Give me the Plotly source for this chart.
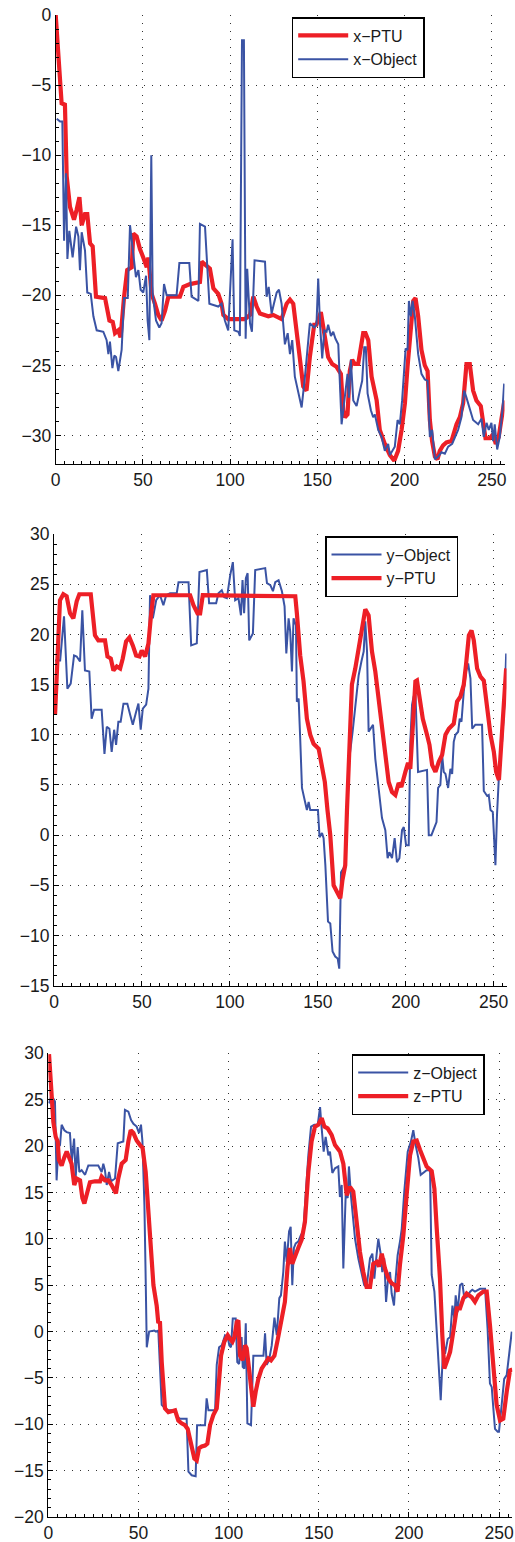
import plotly.graph_objects as go

# ---------------- data ----------------
# Panel 1: x coordinate
x_ptu = [(0,0),(3.4,-6.3),(5.3,-6.4),(6.3,-11.5),(8.2,-13.7),(10.5,-14.6),(12,-13.9),(13.6,-13.0),(14.9,-15.0),(16.8,-14.2),(18.1,-14.2),(19.7,-16.3),(21.2,-16.5),(23.1,-20.1),(28.3,-20.2),(30.8,-21.8),(32.7,-21.9),(34,-22.7),(35.9,-22.5),(37.2,-23.0),(39.2,-20.1),(41,-18.2),(43.6,-18.0),(44.5,-15.6),(46.4,-15.8),(48.3,-16.7),(50.2,-17.3),(52.2,-18.0),(53.1,-17.3),(55,-19.9),(56.9,-20.6),(58.8,-21.4),(60.7,-21.8),(62.7,-21.1),(64.6,-20.1),(71.2,-20.1),(73.2,-19.4),(77,-19.2),(82.7,-19.05),(83.7,-17.6),(86.5,-17.9),(88.4,-18.1),(90.4,-19.5),(93.2,-19.9),(95.1,-20.6),(96.1,-21.4),(98.9,-21.7),(108.5,-21.7),(111.4,-21.4),(113.3,-20.1),(115.2,-20.8),(117.1,-21.3),(121.9,-21.5),(124.7,-21.4),(129.5,-21.7),(132.4,-20.6),(134.3,-20.3),(136.2,-20.6),(139,-23.5),(141.9,-26.5),(143.8,-26.8),(145.7,-24.4),(148.2,-22.1),(149.5,-22.1),(152,-21.2),(154.3,-22.9),(156.2,-24.4),(158.5,-24.9),(161,-25.1),(163.5,-25.6),(164.8,-28.2),(165.8,-28.7),(167.3,-28.5),(168.6,-25.4),(170,-24.6),(171.5,-24.9),(173.4,-24.9),(176.3,-22.7),(177.6,-22.7),(179.2,-23.2),(181.1,-25.8),(184,-27.5),(185.8,-29.6),(188.7,-30.6),(191.6,-31.4),(194.1,-31.8),(196.3,-31.1),(198.3,-29.6),(200.2,-27.7),(201.7,-25.1),(203.6,-22.0),(205,-20.4),(206.3,-20.2),(207.8,-21.5),(209.7,-23.9),(211.6,-25.0),(213.2,-25.4),(214.5,-28.9),(215.8,-30.4),(217.4,-31.5),(218.9,-31.7),(220.2,-31.1),(222.1,-30.7),(224,-30.5),(226.9,-30.4),(229.8,-29.2),(231.7,-28.7),(233.6,-27.7),(235.5,-24.9),(237.4,-24.9),(239.3,-26.8),(241.2,-27.5),(243.7,-27.9),(245,-29.2),(246.4,-30.2),(248.9,-30.2),(250.8,-29.9),(252.3,-30.6),(254,-30.1),(255.6,-28.8),(257.3,-27.5)]

x_obj = [(0.6,-7.4),(2.5,-7.6),(3.8,-7.6),(4.8,-16.1),(5.9,-11.3),(6.7,-17.4),(7.8,-15.4),(9.7,-17.3),(11.7,-15.1),(13,-15.8),(13.9,-18.2),(14.9,-15.5),(16.8,-16.8),(18.1,-19.8),(20.1,-19.9),(21.6,-21.5),(23.5,-22.5),(27.3,-22.6),(29.2,-23.2),(30.2,-24.2),(31.1,-23.3),(32.5,-25.2),(33.6,-24.3),(34.6,-24.4),(35.9,-25.4),(37.8,-23.9),(39.2,-20.2),(41.3,-20.2),(42.6,-15.0),(44.5,-17.0),(46,-18.7),(47.4,-18.2),(48.7,-19.6),(50.2,-19.8),(51.8,-18.6),(52.7,-21.8),(53.7,-23.2),(54.8,-10.0),(55.6,-19.9),(57.5,-21.8),(59.4,-22.3),(60.7,-22.0),(62.1,-19.2),(63.6,-20),(69.3,-20),(70.9,-17.7),(76.6,-17.7),(77.9,-20.1),(81.8,-20.4),(82.7,-14.9),(85.6,-15.1),(88.1,-20.6),(93.2,-20.8),(95.1,-20.6),(97,-21.8),(98.9,-22.5),(99.9,-19.9),(101.4,-16.0),(102.4,-22.5),(104.7,-22.6),(105.6,-22.9),(106.8,-1.8),(107.9,-1.8),(108.9,-23.1),(109.8,-18.1),(111.4,-22.0),(112.5,-22.6),(114,-17.5),(120,-17.6),(120.9,-20.1),(122.1,-19.4),(123.8,-21.3),(125.1,-20.6),(126.7,-19.8),(128,-19.6),(129.5,-20.6),(131.4,-23.5),(133,-22.7),(134.3,-24.2),(135.6,-23.2),(137.1,-25.8),(139,-27),(141,-28),(142.9,-25.8),(144.2,-24.2),(145.7,-22.0),(148.2,-22.3),(149.5,-22.1),(150.5,-18.8),(151.5,-22),(152.8,-24.5),(154,-22.5),(155.3,-22.6),(156.2,-22.1),(157.8,-22.9),(159.1,-22.6),(160.4,-23.1),(162,-23.5),(163.9,-29.2),(164.8,-28.2),(166.2,-26.9),(167.3,-25.6),(168.1,-27.3),(169.2,-24.6),(170.6,-27.5),(172.5,-27.9),(174.4,-26.8),(175.7,-26.1),(176.9,-23.7),(177.8,-23.7),(178.8,-27),(180.7,-28.2),(182,-28.7),(183,-28.5),(184.9,-29.6),(186.8,-30.1),(188.7,-31.1),(190.6,-30.6),(191.6,-31.4),(192.9,-31.1),(194.4,-30.8),(196,-28.9),(197.3,-29.2),(198.6,-27.5),(200.6,-23.8),(201.7,-23.9),(202.5,-20.4),(203.6,-21.5),(204.6,-20.4),(205.9,-21.5),(207.8,-24.2),(209.7,-25.6),(211.6,-26),(213.2,-26.1),(214.5,-30.1),(215.8,-29.6),(217.4,-31.7),(219.3,-31.5),(221.2,-31.2),(223.1,-31.3),(225,-30.8),(227.3,-30.6),(228.8,-30.1),(230.7,-29.6),(232.6,-28.7),(234.2,-26.8),(235.5,-27.3),(237.4,-28.2),(239.3,-28.9),(242.2,-29.2),(244.1,-28.8),(245.4,-30.1),(247,-29.1),(248.3,-29.6),(249.8,-29.1),(250.8,-30.4),(251.7,-29.2),(253.1,-31),(254.6,-30.1),(256.1,-28.2),(257.1,-26.3)]

# Panel 2: y coordinate
y_obj = [(0.6,17.4),(3.5,17.4),(5.7,21.8),(7.6,14.6),(9.5,15.1),(11.4,17.9),(12.9,17.8),(14.8,17.3),(16.1,22.4),(17.6,16.4),(20.1,16.3),(21.4,11.6),(22.8,12.5),(27.1,12.5),(28.7,8.1),(30,10.8),(31.5,10.6),(32.8,8.3),(34.2,10.5),(35.3,9.0),(36.6,11.3),(37.9,11.3),(39.5,13.1),(41.7,13.1),(43.3,12.0),(44.8,11.0),(46.7,12.3),(48,13.1),(49.3,10.5),(50.5,12.6),(52.4,13.0),(53.7,14.6),(54.6,23.9),(56.2,21.6),(58.1,23.4),(60.3,23.9),(62.2,22.9),(63.8,23.9),(66,24.1),(69.8,24.1),(70.8,25.2),(76.5,25.2),(78,18.9),(81.2,19.1),(82.7,26.2),(86.9,26.4),(88.2,23.1),(92.2,23.1),(93.5,24.1),(95.4,24.4),(96.8,23.7),(98.3,23.6),(100.2,25.9),(101.7,27.2),(103,23.4),(104.9,23.6),(106.3,21.9),(107.2,25.4),(108.1,22.1),(109.1,25.6),(110.1,26.1),(111,19.4),(113.1,20.1),(114.4,26.4),(120.1,26.6),(121.1,25.1),(123,24.9),(124.5,24.3),(125.8,25.2),(127.7,25.4),(129.6,24.3),(131.1,22.8),(132.1,18.1),(133.4,21.6),(134.3,20.3),(135.3,16.3),(136.2,21.6),(137.6,20.9),(138.1,13.3),(139.1,13.6),(140,9.6),(141,4.7),(142.9,3.2),(143.8,2.5),(144.8,3.3),(145.7,2.5),(150.1,2.5),(151,-0.2),(152.4,0.2),(153.3,-0.3),(154.3,-3.0),(155.8,-8.6),(157.1,-8.8),(158.4,-11.6),(159.9,-12.1),(161.3,-12.3),(162.2,-13.3),(163.2,-3.7),(165.6,-3.0),(166.6,1.7),(167.9,7.6),(169.8,10.3),(171.3,12.6),(173.2,15.9),(174.8,17.3),(176.1,18.3),(177,21.3),(178,18.3),(178.9,10.3),(179.9,10.6),(181.4,11.0),(182.7,7.6),(184.6,4.7),(186.5,1.7),(188.4,0.5),(189.7,-2.3),(190.7,-1.7),(192.2,-2.3),(193.7,-0.3),(195,-2.7),(196.4,-2.3),(197.9,0.5),(198.9,0.8),(200.2,-1.0),(201.7,-1.0),(202.6,9.3),(203.6,13.0),(204.5,13.8),(205.5,14.3),(207,6.3),(212.1,6.5),(213.1,0.0),(214.6,0.0),(216.5,1.0),(217.5,1.3),(218.4,4.7),(219.7,5.0),(220.7,8.0),(221.6,6.3),(222.6,6.1),(224.1,4.7),(225.4,6.6),(226.4,6.1),(227.3,9.3),(228.3,10.0),(229.8,10.3),(230.7,11.6),(231.7,11.3),(233,14.3),(234.3,16.3),(235.5,17.1),(236.8,15.6),(237.8,10.6),(239.6,11.0),(243.4,11.0),(244.4,4.4),(246.3,3.9),(247.2,4.0),(248.2,2.5),(249.5,2.3),(251,-3.0),(251.9,2.0),(253.3,7.0),(254.8,9.3),(256.3,13.6),(257.1,18.1)]

y_ptu = [(0.6,12.0),(1.9,17.6),(3.4,23.4),(5.3,24.0),(7.2,23.8),(9.1,22.1),(11,21.6),(12.9,23.3),(14.4,24.0),(20.9,24.0),(23.3,19.9),(25.2,19.4),(29,19.4),(30.4,17.8),(32.3,17.6),(33.8,16.4),(35.7,16.8),(37.6,16.6),(39.1,17.6),(41,19.3),(42.9,19.7),(44.8,18.9),(46.7,17.9),(48.6,17.8),(49.9,18.4),(51.8,17.8),(53.7,19.1),(55,21.6),(56.5,23.9),(77.4,23.9),(79.3,22.9),(81.6,22.1),(83.1,22.1),(84.6,23.9),(136.2,23.9),(137.2,23.8),(138.1,22.1),(140,17.9),(141.9,15.3),(143.8,11.6),(145.7,10.0),(147.6,9.1),(150.5,8.6),(152,7.2),(154,5.3),(155.5,2.5),(157.1,0.0),(159,-5.0),(161.5,-6.0),(162.8,-6.3),(164,-4.5),(165.6,-3.0),(166.6,2.5),(167.5,6.5),(169.4,15.0),(171.3,16.6),(173.2,18.6),(175.1,20.9),(177,22.5),(178.9,21.9),(180.8,18.3),(182.7,16.3),(184.6,13.6),(186.5,11.0),(188.4,7.6),(190.3,5.3),(192.2,4.3),(194.1,4.0),(196,5.2),(197.5,4.8),(199.8,6.3),(201.3,7.2),(202.6,6.6),(204,11.6),(205.5,15.3),(206.4,15.4),(207.8,14.0),(209.7,11.6),(212.1,10.0),(213.5,9.0),(215,7.0),(216.9,6.3),(218.8,7.3),(220.7,8.0),(222.6,10.0),(224.5,10.6),(227.3,11.1),(229.2,13.3),(231.1,13.8),(233,15.0),(234.3,17.0),(235.9,19.9),(237.4,20.4),(238.7,19.4),(240.6,16.6),(242.5,15.8),(244.4,15.4),(246.3,12.3),(248.2,10.0),(250.1,8.3),(251.4,6.3),(253,5.5),(254.8,11.0),(257.1,16.6)]

# Panel 3: z coordinate
z_obj = [(0.4,24.6),(1.5,25.3),(2.8,25.1),(3.7,24.8),(4.6,16.3),(5.6,19.9),(6.5,20.1),(7.4,22.3),(8.9,21.7),(10.2,21.5),(12,21.4),(13,18.3),(14.3,20.8),(15.2,16.7),(16.3,19.9),(17.2,17.2),(18.5,17.4),(20.4,16.9),(22.2,17.9),(27.7,17.9),(29.6,17.2),(30.5,18.1),(31.4,17.4),(32.4,15.8),(33.7,17.2),(34.8,16.2),(37,16.5),(38.5,20.3),(41.6,20.5),(42.5,23.9),(44.4,23.7),(45.9,22.8),(47.2,22.4),(49,22.1),(50.3,21.4),(51.4,22.3),(52.2,20.5),(53.3,13.6),(54,5.7),(54.6,-1.7),(55.9,0.0),(58.8,0.1),(59.7,0.0),(61,0.1),(62.9,-7.9),(63.8,-8.1),(65.7,-8.5),(70.3,-8.5),(71.2,-9.2),(73,-9.4),(76.7,-9.4),(77.7,-15.1),(79.5,-15.5),(81.7,-15.6),(82.5,-10.1),(86.9,-10.1),(87.8,-7.2),(88.8,-8.5),(92.5,-8.5),(93.4,-3.6),(94.7,-1.7),(96.2,-1.5),(98,-0.4),(99.5,-0.6),(100.4,-1.5),(101.3,-1.7),(102.3,1.4),(103.9,1.4),(104.8,-3.3),(105.8,-3.5),(107.2,-0.6),(107.8,-3.8),(108.7,-4.0),(109.5,0.9),(110.4,-9.9),(112.4,-10.1),(113.7,-2.6),(119.3,-2.6),(120.2,-0.2),(121.1,-3.6),(122.4,-3.1),(123.9,-1.5),(125.4,1.5),(126.7,-0.4),(128.1,3.6),(129,3.9),(130.3,6.4),(131.2,9.7),(132.2,7.5),(133.5,10.8),(134.4,11.3),(135.3,5.0),(136.2,9.0),(137.2,9.5),(138.6,9.7),(140.1,10.4),(141.4,10.8),(142.7,14.7),(144.2,19.0),(145.7,22.1),(147.5,22.3),(149.4,22.3),(150.7,24.2),(151.6,21.9),(152.7,19.4),(153.8,21.0),(155.3,19.0),(156.2,19.4),(157.5,17.1),(159,17.6),(160.8,17.8),(161.7,14.5),(162.7,15.8),(163.6,6.8),(164.9,14.7),(166,14.4),(166.7,17.8),(167.9,14.5),(170.1,10.0),(171.9,7.9),(173.8,6.1),(175.2,5.0),(176.5,4.8),(178.4,7.9),(179.7,8.4),(180.8,5.7),(182.1,8.4),(183,10.0),(184.3,8.4),(185.2,6.4),(186.3,7.9),(187.3,3.2),(188.6,6.1),(189.5,6.4),(190.4,4.1),(191.7,2.8),(192.6,5.7),(193.7,8.2),(195,9.7),(196,11.1),(197.4,15.1),(199.3,19.4),(201.1,20.5),(202.4,21.7),(203.7,20.1),(205.2,18.7),(206.5,16.9),(208,17.1),(209.8,17.4),(211.7,17.4),(212.6,6.1),(214.1,4.3),(215.4,0.3),(216.3,-3.6),(217.6,-7.4),(219.1,-1.1),(220,-2.4),(221.5,-0.8),(222.8,-0.6),(224.1,2.8),(225.2,1.4),(225.9,3.9),(227,2.1),(228.3,5.0),(229.6,5.2),(230.7,3.6),(232,3.7),(233.9,4.3),(235.1,4.5),(236.6,4.3),(239.4,4.6),(242.2,4.6),(243.6,0.3),(244.9,-5.6),(245.9,-6.0),(246.8,-8.3),(247.7,-10.5),(249.2,-10.8),(249.9,-10.8),(251.4,-7.9),(252.8,-5.1),(254.2,-4.7),(255.5,-2.2),(257,0.0)]

z_ptu = [(0.4,29.9),(1.5,26.6),(2.8,22.6),(4.1,21.0),(5.2,20.5),(5.9,18.5),(7.4,17.9),(8.9,18.8),(10.2,19.4),(11.5,18.8),(12.9,18.1),(14.4,15.8),(15.7,16.5),(17.6,16.3),(18.9,14.4),(20,13.8),(21.3,14.7),(23.1,16.1),(25.9,16.2),(28.7,16.2),(29.6,16.7),(31.4,16.3),(33.3,16.3),(35.1,15.8),(37.5,14.9),(38.8,16.5),(40.7,18.1),(42.9,18.5),(44.4,20.5),(45.7,21.7),(47.2,21.4),(49,20.6),(50.9,20.1),(52.3,19.8),(54,17.2),(55.5,13.3),(56.9,8.6),(58.3,5.0),(60.1,2.8),(61,0.9),(61.9,1.1),(62.9,-3.3),(64.7,-8.3),(66.6,-8.7),(70.3,-8.5),(72.1,-9.6),(73.9,-9.9),(75.8,-10.1),(77.3,-10.5),(79.1,-12.3),(81,-13.7),(82.3,-13.9),(83.6,-12.6),(85.1,-12.4),(86.9,-12.3),(88.2,-12.1),(89.7,-10.1),(91.5,-9.0),(93.4,-8.3),(94.3,-6.2),(95.8,-2.6),(97.6,-1.1),(99.5,-0.4),(100.8,-0.8),(102.1,-1.1),(103.2,-0.6),(104.5,1.0),(105.4,1.2),(106.3,-2.6),(107.8,-3.1),(109.1,-1.5),(110,-1.8),(110.9,-3.3),(112.4,-6.5),(113.7,-8.1),(115,-6.5),(116.5,-5.1),(118.3,-4.0),(120.2,-3.5),(122,-2.9),(123.5,-3.1),(125.4,-2.6),(127.3,-0.8),(129.4,1.4),(131.2,3.2),(132.7,7.0),(134,9.0),(135.3,7.3),(136.8,8.2),(138.6,9.0),(140.5,9.9),(142.3,11.8),(144.2,17.2),(146,20.5),(147.9,22.1),(149.7,22.3),(151.6,23.0),(153.1,22.1),(154.9,21.9),(157.1,21.2),(159,20.1),(161.8,19.4),(163.6,18.1),(165.5,14.7),(167.3,15.6),(169.1,15.1),(171,11.8),(172.8,8.6),(174.7,6.4),(176.5,4.8),(178.4,4.8),(180.2,7.3),(182.1,7.5),(183.4,7.0),(184.9,8.4),(186.7,6.8),(188.6,5.7),(190.4,5.2),(192.3,5.0),(193.7,4.3),(195,7.2),(196.9,10.4),(198.7,14.7),(200.6,19.0),(202.4,20.5),(204.3,20.6),(206.1,19.6),(208,18.7),(209.8,17.8),(212.6,17.3),(214.1,15.4),(215.4,11.1),(217.2,5.7),(218.5,-0.4),(219.6,-4.0),(220.9,-3.3),(222.8,-2.2),(224.6,0.0),(226.5,2.5),(228.3,2.5),(230.2,3.6),(232,4.1),(234.8,3.7),(236.6,3.2),(238.5,3.9),(241.2,4.3),(243.1,4.3),(244.9,0.7),(246.8,-3.6),(248.6,-7.9),(250.5,-9.6),(252.3,-9.4),(254.2,-6.5),(256,-4.2),(257.3,-4.1)]

x_ticks = [0, 50, 100, 150, 200, 250]
y1_ticks = [-30, -25, -20, -15, -10, -5, 0]
y2_ticks = [-15, -10, -5, 0, 5, 10, 15, 20, 25, 30]
y3_ticks = [-20, -15, -10, -5, 0, 5, 10, 15, 20, 25, 30]

# ---------------- styling ----------------
RED = "#ED1F26"
BLUE = "#3A53A4"
FONT = "Liberation Sans, Arial, Helvetica, sans-serif"
W, H = 515, 1542

fig = go.Figure()

def add(pts, name, color, width, n, legend):
    fig.add_trace(go.Scatter(
        x=[p[0] for p in pts], y=[p[1] for p in pts], mode="lines", name=name,
        line=dict(color=color, width=width),
        xaxis="x" if n == 1 else f"x{n}", yaxis="y" if n == 1 else f"y{n}",
        legend=legend))

add(x_ptu, "x\u2212PTU", RED, 4.2, 1, "legend")
add(x_obj, "x\u2212Object", BLUE, 2, 1, "legend")
add(y_obj, "y\u2212Object", BLUE, 2, 2, "legend2")
add(y_ptu, "y\u2212PTU", RED, 4.2, 2, "legend2")
add(z_obj, "z\u2212Object", BLUE, 2, 3, "legend3")
add(z_ptu, "z\u2212PTU", RED, 4.2, 3, "legend3")

def px_x(p):
    return p / W

def px_y(p):
    return 1 - p / H

common = dict(showline=True, linecolor="black", linewidth=1, mirror=False,
              ticks="inside", ticklen=5, tickcolor="black", automargin=False,
              showgrid=True, gridcolor="#333333", griddash="1px,7px", gridwidth=1,
              zeroline=False, tickfont=dict(family=FONT, size=17.5, color="#1a1a1a"))

panels = [  # (x px left,right), (y px top,bottom), y range, y ticks
    ((55.7, 504.5), (15, 463.5), [-32, 0], y1_ticks),
    ((54.0, 506.5), (534, 985.7), [-15, 30], y2_ticks),
    ((48.3, 512.3), (1053.3, 1517), [-20, 30], y3_ticks),
]
layout = {}
for i, ((xl, xr), (yt, yb), yr, yt_vals) in enumerate(panels, start=1):
    xs = "xaxis" if i == 1 else f"xaxis{i}"
    ys = "yaxis" if i == 1 else f"yaxis{i}"
    layout[xs] = dict(common, domain=[px_x(xl), px_x(xr)], range=[0, 257.3],
                      tickvals=x_ticks, anchor="y" if i == 1 else f"y{i}",
                      minor=dict(ticks="inside", ticklen=3, tickcolor="black", dtick=5, showgrid=False))
    layout[ys] = dict(common, domain=[px_y(yb), px_y(yt)], range=yr,
                      tickvals=yt_vals, anchor="x" if i == 1 else f"x{i}",
                      minor=dict(ticks="inside", ticklen=3, tickcolor="black", dtick=1, showgrid=False))

leg = dict(bgcolor="white", bordercolor="black", borderwidth=1.5,
           font=dict(family=FONT, size=16, color="#1a1a1a"),
           xanchor="left", yanchor="top", xref="paper", yref="paper",
           tracegroupgap=0, itemwidth=50)

fig.update_layout(
    width=W, height=H, margin=dict(l=0, r=0, t=0, b=0, autoexpand=False),
    paper_bgcolor="white", plot_bgcolor="white", showlegend=True,
    legend=dict(leg, x=px_x(291.7), y=px_y(17)),
    legend2=dict(leg, x=px_x(325), y=px_y(536)),
    legend3=dict(leg, x=px_x(351.7), y=px_y(1054)),
    **layout,
)

fig.write_html("out.html", config={"displayModeBar": False},
               post_script="document.body.style.margin='0px';document.body.style.padding='0px';")
